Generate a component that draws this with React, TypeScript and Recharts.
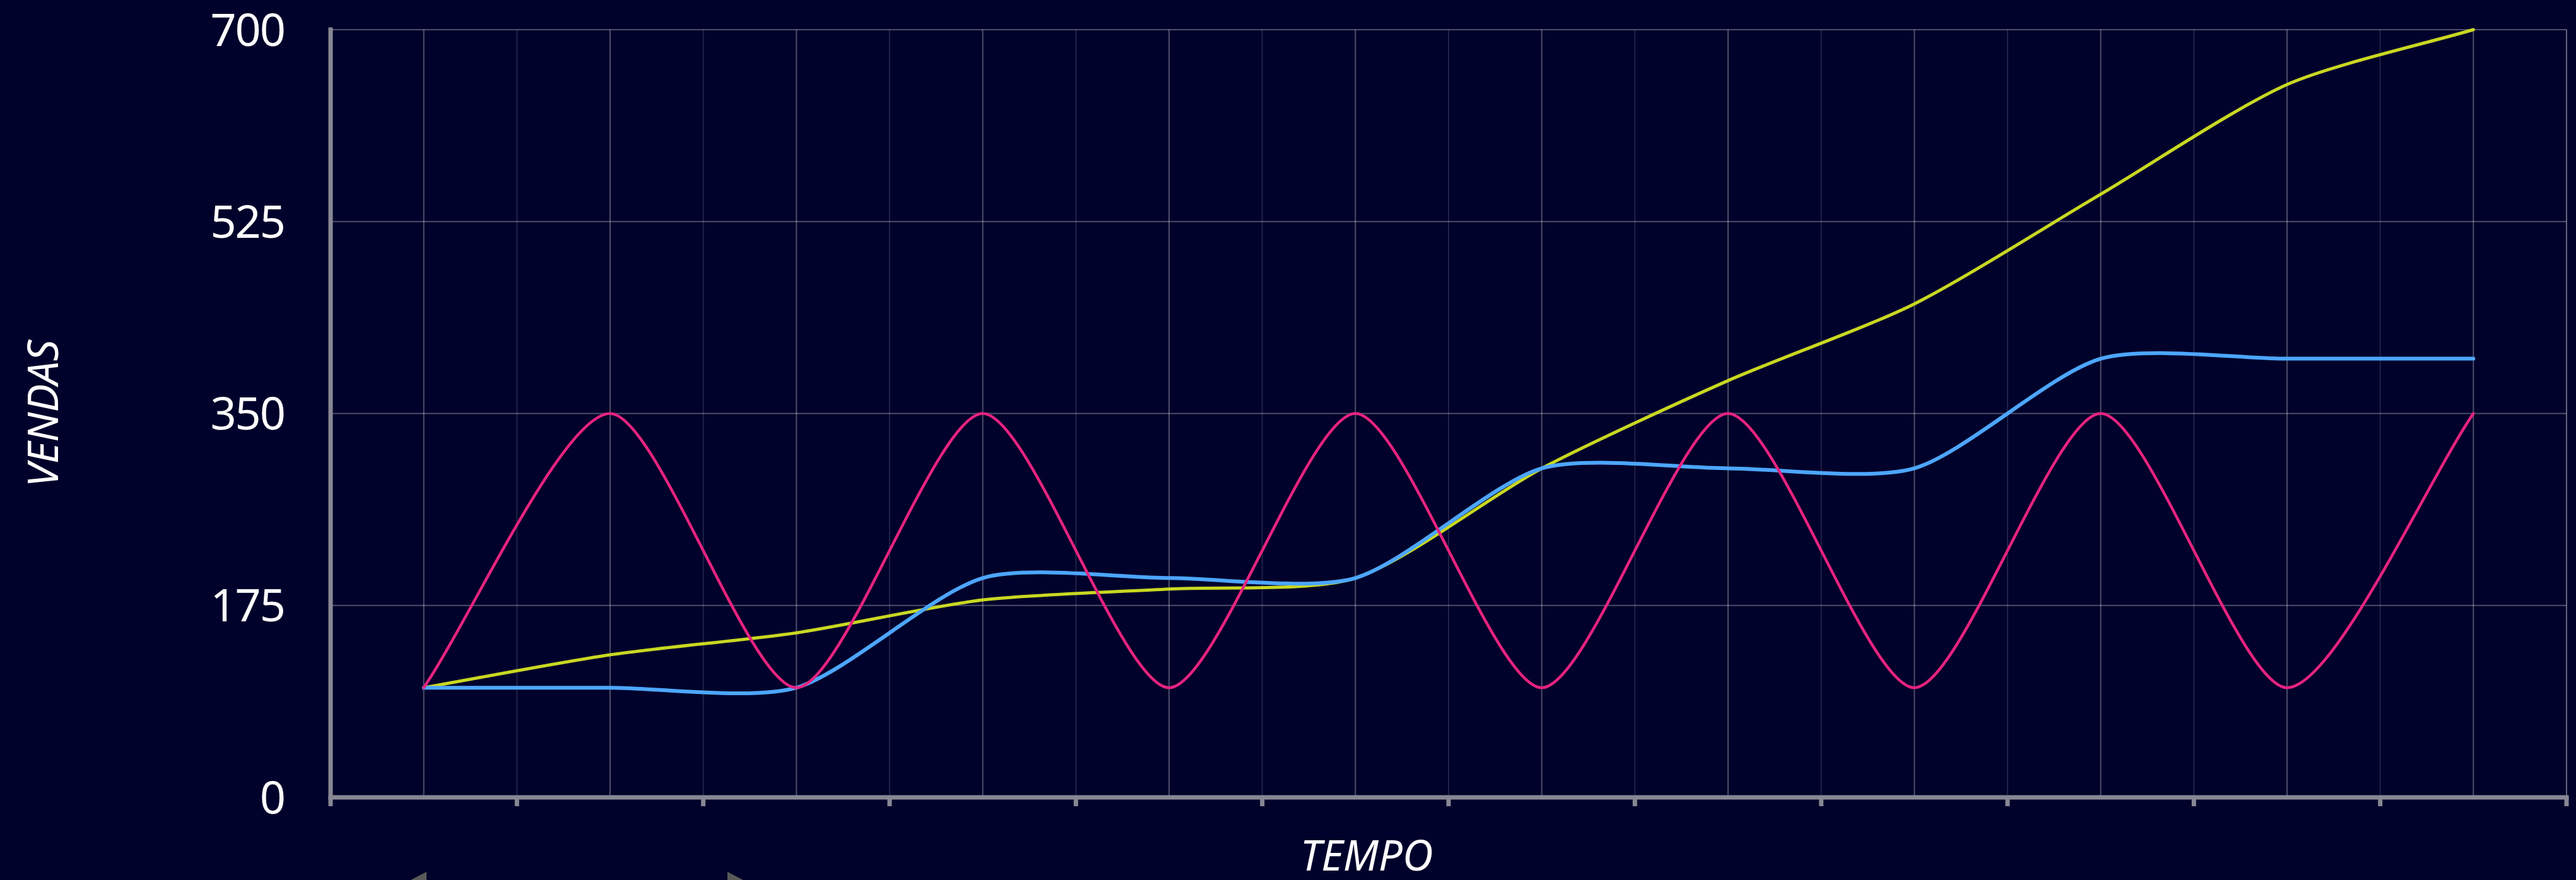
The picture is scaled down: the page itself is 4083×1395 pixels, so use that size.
import React from 'react';
import { LineChart, Line, XAxis, YAxis, CartesianGrid, Label } from 'recharts';

// Periods along the time axis (no labels are shown on it)
const periodos = [1, 2, 3, 4, 5, 6, 7, 8, 9, 10, 11, 12];

// Sales per period for each series
const serieAmarela = [100, 130, 150, 180, 190, 200, 300, 380, 450, 550, 650, 700];
const serieAzul = [100, 100, 100, 200, 200, 200, 300, 300, 300, 400, 400, 400];
const serieRosa = [100, 350, 100, 350, 100, 350, 100, 350, 100, 350, 100, 350];

// Value axis ticks
const ticksVendas = [0, 175, 350, 525, 700];

const dados = periodos.map((p, i) => ({
  periodo: p,
  amarela: serieAmarela[i],
  azul: serieAzul[i],
  rosa: serieRosa[i],
}));

// Band edges around every period: tick marks and faint grid lines sit here
const limites = [periodos[0] - 0.5, ...periodos.map((p) => p + 0.5)];
const dominioX: [number, number] = [limites[0], limites[limites.length - 1]];

const FUNDO = '#01022b';
const EIXO = '#878794';
const GRADE_FORTE = 'rgba(255,255,255,0.30)';
const GRADE_FRACA = 'rgba(255,255,255,0.13)';
const FONTE = '"Noto Sans", "Open Sans", sans-serif';

// Cubic spline with distance-weighted control points and a tension factor
function curvaSuave(tensao: number) {
  return (context: any) => {
    let pts: [number, number][] = [];
    return {
      areaStart() {},
      areaEnd() {},
      lineStart() {
        pts = [];
      },
      lineEnd() {
        const n = pts.length;
        if (!n) return;
        context.moveTo(pts[0][0], pts[0][1]);
        if (n === 1) return;
        const ctrl = pts.map((p, i) => {
          const prev = pts[Math.max(i - 1, 0)];
          const next = pts[Math.min(i + 1, n - 1)];
          const d01 = Math.hypot(p[0] - prev[0], p[1] - prev[1]);
          const d12 = Math.hypot(next[0] - p[0], next[1] - p[1]);
          const soma = d01 + d12;
          const s01 = soma ? d01 / soma : 0;
          const s12 = soma ? d12 / soma : 0;
          const fa = tensao * s01;
          const fb = tensao * s12;
          const dx = next[0] - prev[0];
          const dy = next[1] - prev[1];
          return {
            antes: [p[0] - fa * dx, p[1] - fa * dy],
            depois: [p[0] + fb * dx, p[1] + fb * dy],
          };
        });
        for (let i = 1; i < n; i++) {
          const a = ctrl[i - 1].depois;
          const b = ctrl[i].antes;
          context.bezierCurveTo(a[0], a[1], b[0], b[1], pts[i][0], pts[i][1]);
        }
      },
      point(x: number, y: number) {
        pts.push([+x, +y]);
      },
    };
  };
}

const curva = curvaSuave(0.25) as any;

const tituloVendas = (props: any) => {
  const vb = props.viewBox || {};
  const cx = (vb.x ?? 0) + 66;
  const cy = (vb.y ?? 47) + (vb.height ?? 1217) / 2;
  return (
    <text
      x={cx}
      y={cy}
      transform={`rotate(-90, ${cx}, ${cy})`}
      textAnchor="middle"
      dominantBaseline="central"
      fill="#ffffff"
      fontStyle="italic"
      fontSize={67}
      fontFamily={FONTE}
    >
      VENDAS
    </text>
  );
};

const tituloTempo = (props: any) => {
  const vb = props.viewBox || {};
  const cx = (vb.x ?? 524) + (vb.width ?? 3544) / 2 - 130;
  const cy = (vb.y ?? 1264) + 90;
  return (
    <text
      x={cx}
      y={cy}
      textAnchor="middle"
      dominantBaseline="central"
      fill="#ffffff"
      fontStyle="italic"
      fontSize={67}
      fontFamily={FONTE}
    >
      TEMPO
    </text>
  );
};

const linhaHorizontal = (p: any) => (
  <line key={p.key} x1={p.x1} y1={p.y1} x2={p.x2} y2={p.y2} stroke={GRADE_FORTE} strokeWidth={2} />
);
const linhaVerticalFraca = (p: any) => (
  <line key={p.key} x1={p.x1} y1={p.y1} x2={p.x2} y2={p.y2} stroke={GRADE_FRACA} strokeWidth={2} />
);
const linhaVerticalForte = (p: any) => (
  <line key={p.key} x1={p.x1} y1={p.y1} x2={p.x2} y2={p.y2} stroke={GRADE_FORTE} strokeWidth={2} />
);

export default function App() {
  return (
    <div
      style={{
        position: 'fixed',
        left: 0,
        top: 0,
        width: 4083,
        height: 1395,
        overflow: 'hidden',
        background: FUNDO,
        fontFamily: FONTE,
      }}
    >
      <LineChart
        width={4083}
        height={1395}
        data={dados}
        margin={{ top: 47, right: 15, bottom: 0, left: 0 }}
      >
        <CartesianGrid horizontal={linhaHorizontal} vertical={linhaVerticalFraca} />
        <CartesianGrid xAxisId="centro" horizontal={false} vertical={linhaVerticalForte} />
        <XAxis
          dataKey="periodo"
          type="number"
          domain={dominioX}
          ticks={limites}
          interval={0}
          height={131}
          tickFormatter={() => ''}
          tickSize={14}
          tickLine={{ stroke: EIXO, strokeWidth: 7 }}
          axisLine={{ stroke: EIXO, strokeWidth: 7, strokeLinecap: 'square' }}
        >
          <Label content={tituloTempo} />
        </XAxis>
        <XAxis
          xAxisId="centro"
          dataKey="periodo"
          type="number"
          domain={dominioX}
          ticks={periodos}
          hide
        />
        <YAxis
          type="number"
          domain={[0, 700]}
          ticks={ticksVendas}
          interval={0}
          width={524}
          tickLine={false}
          tickSize={0}
          tickMargin={73}
          tick={{ fill: '#ffffff', fontSize: 72, fontFamily: FONTE, letterSpacing: -2 }}
          axisLine={{ stroke: EIXO, strokeWidth: 7, strokeLinecap: 'square' }}
        >
          <Label content={tituloVendas} />
        </YAxis>
        <Line
          dataKey="amarela"
          type={curva}
          stroke="#c9d821"
          strokeWidth={5}
          strokeLinecap="round"
          dot={false}
          activeDot={false}
          isAnimationActive={false}
        />
        <Line
          dataKey="azul"
          type={curva}
          stroke="#4da6ff"
          strokeWidth={6}
          strokeLinecap="round"
          dot={false}
          activeDot={false}
          isAnimationActive={false}
        />
        <Line
          dataKey="rosa"
          type={curva}
          stroke="#e6237f"
          strokeWidth={4.5}
          strokeLinecap="round"
          dot={false}
          activeDot={false}
          isAnimationActive={false}
        />
      </LineChart>
      <svg
        width={650}
        height={25}
        style={{ position: 'absolute', left: 600, top: 1370 }}
      >
        <polygon points="76,12 76,64 26,38" fill="#5a5a5a" />
        <polygon points="553,12 553,64 603,38" fill="#5a5a5a" />
      </svg>
    </div>
  );
}
